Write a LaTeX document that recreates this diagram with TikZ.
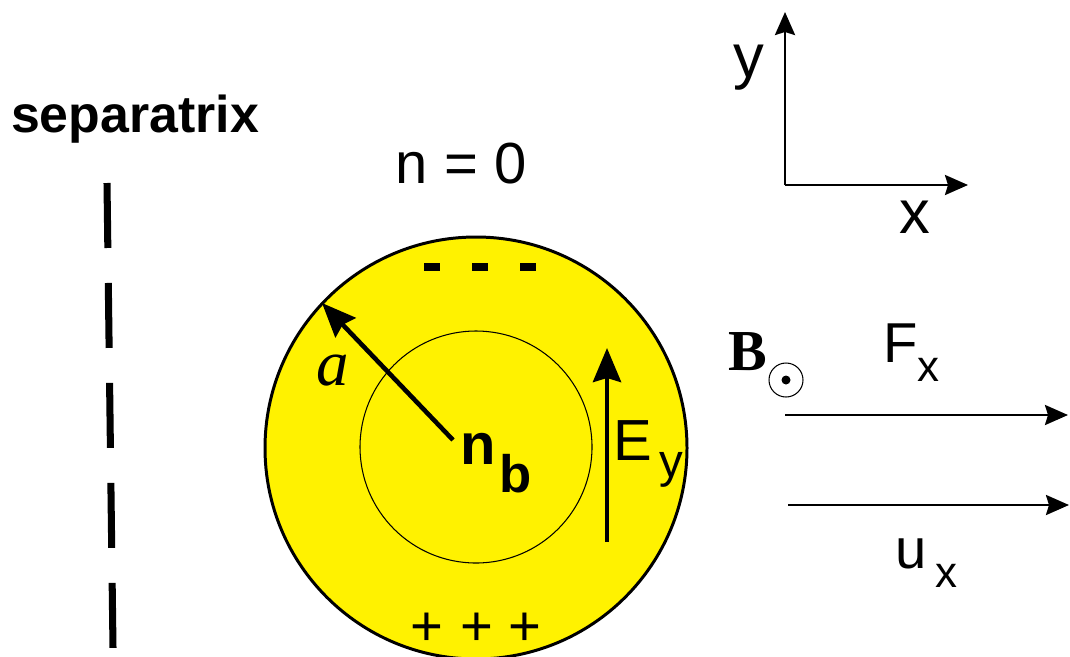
\documentclass[tikz,border=0pt]{standalone}
\usepackage{fontspec}
\setmainfont{Liberation Sans}
\newfontfamily\timesfont{Liberation Serif}
\usetikzlibrary{arrows.meta}
\definecolor{plasma}{RGB}{255,242,0}
\tikzset{
  thinarrow/.style={line width=1.5pt,-{Stealth[length=0.46cm,width=0.40cm,inset=0.06cm]}},
  fatarrow/.style={line width=2.6pt,-{Stealth[length=0.68cm,width=0.56cm,inset=0.08cm]}},
  lbl/.style={anchor=base,inner sep=0pt,font=\fontsize{33}{36}\selectfont},
  plus/.style={inner sep=0pt,font=\fontsize{32}{34}\selectfont}
}
\begin{document}
\begin{tikzpicture}[x=0.02cm,y=-0.02cm]
\useasboundingbox (0,0) rectangle (1070,656);
% separatrix
\node (septxt) at (135,132) [anchor=base,inner sep=0pt,font=\fontsize{29.5}{32}\bfseries] {separatrix};
\coordinate (septop) at (107,183);
\coordinate (sepbot) at (113,648);
\draw[line width=4pt,dash pattern=on 1.3cm off 0.7cm] (septop) -- (sepbot);
% beam
\node (nzero) at (461,183) [lbl] {n = 0};
\fill[plasma] (476,448) circle [radius=211];
\draw[line width=1.7pt] (476,448) circle [radius=211];
\draw[line width=0.6pt] (476,447) circle [radius=116];
\foreach \xm in {432,480,528}
  \fill (\xm-8,263) rectangle (\xm+8,271);
\node (p1) at (427,629) [plus] {+};
\node (p2) at (477,629) [plus] {+};
\node (p3) at (525,629) [plus] {+};
\node (nb) at (460,464) [anchor=base west,inner sep=0pt,font=\fontsize{33}{36}\bfseries] {n\hspace{2pt}\raisebox{-16pt}{\fontsize{30}{32}\selectfont b}};
\coordinate (ctr) at (453,440);
\coordinate (rim) at (322,303);
\draw[fatarrow] (ctr) -- (rim);
\node (alab) at (333,385) [lbl,font=\fontsize{37}{40}\timesfont\itshape] {a};
\coordinate (ebot) at (607,542);
\coordinate (etop) at (607,348);
\draw[fatarrow] (ebot) -- (etop);
\node (elab) at (613,460) [anchor=base west,inner sep=0pt,font=\fontsize{33}{36}\selectfont] {E\hspace{4pt}\raisebox{-10pt}{\fontsize{27}{30}\selectfont y}};
% axes
\coordinate (orig) at (785,185);
\coordinate (ytip) at (785,12);
\coordinate (xtip) at (968,185);
\draw[thinarrow] (orig) -- (ytip);
\draw[thinarrow] (orig) -- (xtip);
\node (ylab) at (749,77) [lbl,font=\fontsize{35}{38}\selectfont] {y};
\node (xlab) at (915,233) [lbl,font=\fontsize{35}{38}\selectfont] {x};
% field and forces
\node (blab) at (748,370) [lbl,font=\fontsize{33}{36}\timesfont\bfseries] {B};
\node (bdot) at (786,380) [circle,draw,line width=0.6pt,minimum size=34*0.02cm,inner sep=0pt] {};
\fill (bdot.center) circle [radius=4.5];
\node (flab) at (883,362) [anchor=base west,inner sep=0pt,font=\fontsize{32}{34}\selectfont] {F\raisebox{-11pt}{\fontsize{25}{28}\selectfont x}};
\coordinate (fl) at (785,415);
\coordinate (fr) at (1068,415);
\draw[thinarrow] (fl) -- (fr);
\coordinate (ul) at (788,505);
\coordinate (ur) at (1069,505);
\draw[thinarrow] (ul) -- (ur);
\node (ulab) at (895,568) [anchor=base west,inner sep=0pt,font=\fontsize{32}{34}\selectfont] {u\hspace{5pt}\raisebox{-11pt}{\fontsize{25}{28}\selectfont x}};
\end{tikzpicture}
\end{document}
